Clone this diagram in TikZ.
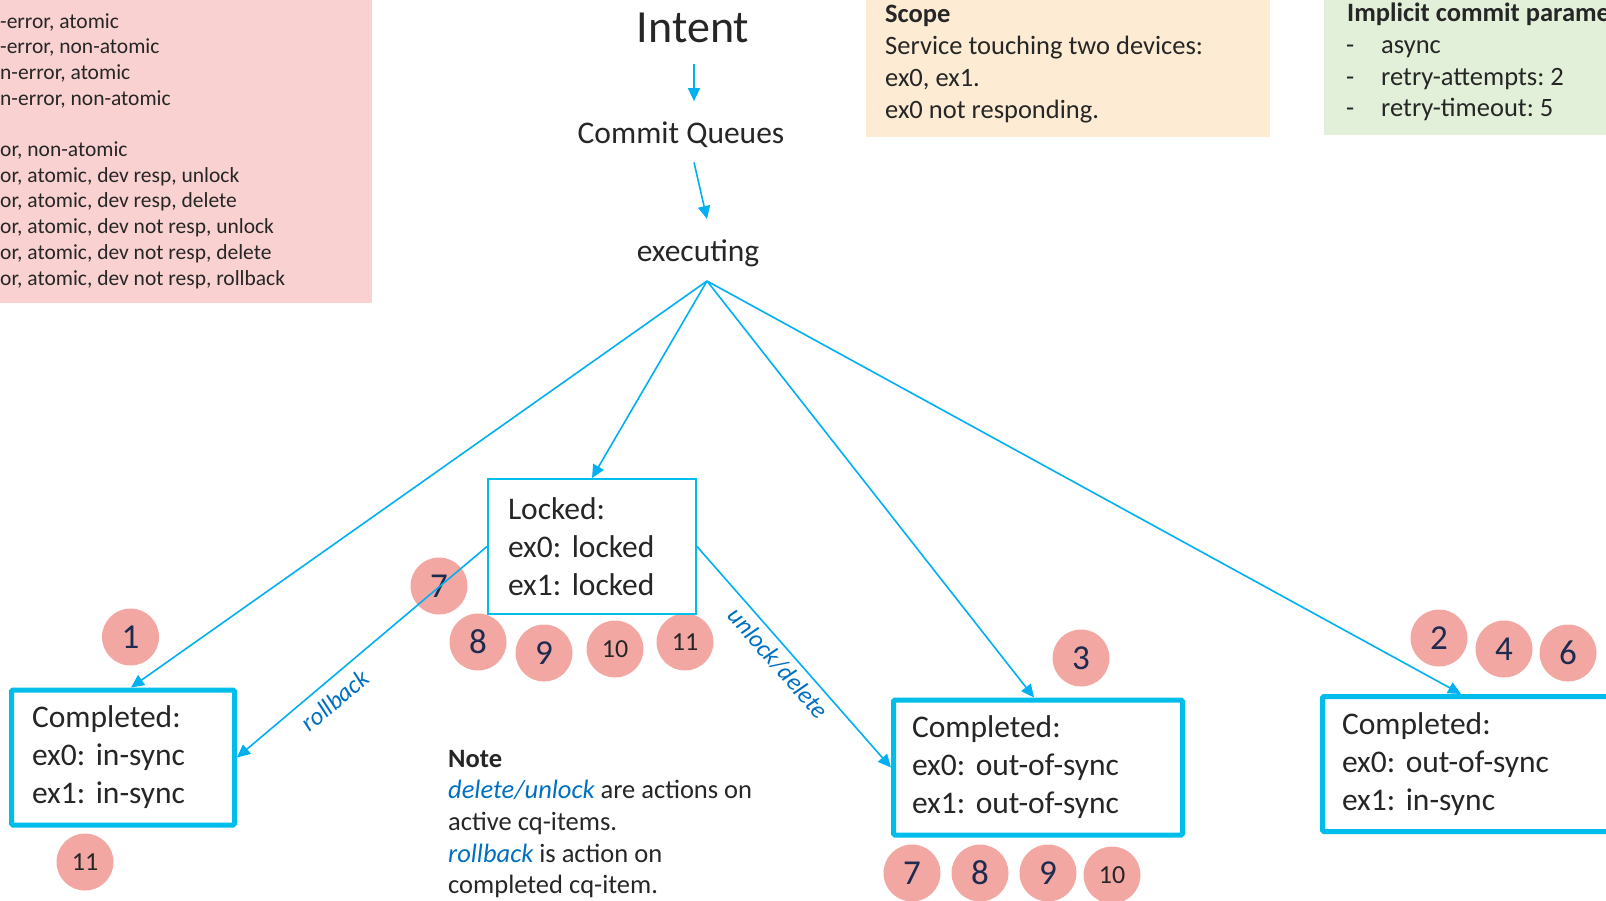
\documentclass[tikz,border=0pt]{standalone}
\usepackage{fontspec}
\setmainfont{Carlito}
\usetikzlibrary{arrows.meta,calc}
\definecolor{cyanline}{HTML}{00B0F0}
\definecolor{boxcyan}{HTML}{00BDEB}
\definecolor{pinkbg}{HTML}{F9D1D0}
\definecolor{peachbg}{HTML}{FDEBD3}
\definecolor{greenbg}{HTML}{E2F0D9}
\definecolor{dotfill}{HTML}{F3A7A2}
\definecolor{txt}{HTML}{262626}
\definecolor{navy}{HTML}{1C2B4F}
\definecolor{lblue}{HTML}{0070C0}
\newcommand\fsz[2]{\fontsize{#1}{#2}\selectfont}
\frenchspacing
\begin{document}
\frenchspacing
\begin{tikzpicture}[x=1pt,y=-1pt,
  arr/.style={draw=cyanline, line width=1.6pt, -{Triangle[length=13pt,width=12pt]}},
  lbl/.style={font=\fsz{25}{30}\itshape, text=lblue, inner sep=0pt, sloped},
  dotc/.style={circle, fill=dotfill, minimum size=57pt, inner sep=0pt, text=navy, font=\fsz{35}{40}},
  dotcs/.style={dotc, text=txt, font=\fsz{26}{30}},
  plain/.style={anchor=base west, inner sep=0pt, text=txt},
  lockbox/.style={draw=boxcyan, line width=2pt, fill=white, align=left, inner xsep=20pt, inner ysep=0pt,
    text width=168pt, minimum height=135pt, font=\fsz{31.5}{38}\frenchspacing, text=txt},
  compbox/.style={draw=boxcyan, line width=5pt, rounded corners=1.5pt, fill=white, align=left, inner ysep=0pt,
    minimum height=135pt, font=\fsz{31.5}{38}\frenchspacing, text=txt},
  ]
\useasboundingbox (0,0) rectangle (1606,900);
\clip (0,0) rectangle (1606,900);

% background panels
\node[fill=pinkbg, anchor=north west, inner sep=0pt, minimum width=372pt, minimum height=303pt] (pinkbox) at (0,0) {};
\node[fill=peachbg, anchor=north west, inner sep=0pt, minimum width=404pt, minimum height=137pt] (scopebox) at (866,0) {};
\node[fill=greenbg, anchor=north west, inner sep=0pt, minimum width=300pt, minimum height=135pt] (parambox) at (1324,0) {};

% pink panel text
\foreach \y/\t [count=\i] in {28/{-error, atomic}, 53.7/{-error, non-atomic}, 79.4/{n-error, atomic}, 105.1/{n-error, non-atomic},
  156.5/{or, non-atomic}, 182.2/{or, atomic, dev resp, unlock}, 207.9/{or, atomic, dev resp, delete},
  233.6/{or, atomic, dev not resp, unlock}, 259.3/{or, atomic, dev not resp, delete}, 285/{or, atomic, dev not resp, rollback}}
  \node[plain, font=\fsz{21.5}{25.7}] (p\i) at (0,\y) {\t};

% scope text
\node[plain, font=\fsz{26.5}{32}\bfseries] (scopet) at (885,22) {Scope};
\node[plain, font=\fsz{26.5}{32}] (scope1) at (885,54) {Service touching two devices:};
\node[plain, font=\fsz{26.5}{32}] (scope2) at (885,86) {ex0, ex1.};
\node[plain, font=\fsz{26.5}{32}] (scope3) at (885,118) {ex0 not responding.};

% parameter text
\node[plain, font=\fsz{26.5}{32}\bfseries] (part) at (1347,21) {Implicit commit parameters};
\foreach \y/\t [count=\i] in {53/{async}, 85/{retry-attempts: 2}, 116/{retry-timeout: 5}} {
  \node[plain, font=\fsz{26.5}{32}] (pard\i) at (1346,\y) {-};
  \node[plain, font=\fsz{26.5}{32}] (par\i) at (1381,\y) {\t};
}

% titles
\node[anchor=base, inner sep=0pt, text=txt, font=\fsz{46}{50}] (intent) at (693,42) {Intent};
\node[anchor=base, inner sep=0pt, text=txt, font=\fsz{31.5}{36}] (cq) at (681,143) {Commit Queues};
\node[anchor=base, inner sep=0pt, text=txt, font=\fsz{31.5}{36}] (exec) at (698,261) {executing};
\coordinate (fan) at (707,281);

% circles
\node[dotc] (n1) at (130.5,637) {1};
\node[dotcs] (n11a) at (85,862) {11};
\node[dotc] (n7a) at (439,586) {7};
\node[dotc] (n8a) at (478,642) {8};
\node[dotc] (n9a) at (544,653) {9};
\node[dotcs] (n10a) at (615,649) {10};
\node[dotcs] (n11b) at (685,642) {11};
\node[dotc] (n3) at (1081,658) {3};
\node[dotc] (n2) at (1439,638) {2};
\node[dotc] (n4) at (1504,649) {4};
\node[dotc] (n6) at (1568,653) {6};
\node[dotc] (n7b) at (912,873) {7};
\node[dotc] (n8b) at (980,873) {8};
\node[dotc] (n9b) at (1048,873) {9};
\node[dotcs] (n10b) at (1112,875) {10};

% state boxes
\node[lockbox] (locked) at (592,546.5) {Locked:\\ex0: locked\\ex1: locked};
\node[compbox, inner xsep=20.5pt, text width=182pt] (c1) at (123,757.5) {Completed:\\ex0: in-sync\\ex1: in-sync};
\node[compbox, inner xsep=18.5pt, text width=252pt] (c3) at (1038,767.5) {Completed:\\ex0: out-of-sync\\ex1: out-of-sync};
\node[compbox, inner xsep=19.5pt, text width=261pt] (c4) at (1472.5,764) {Completed:\\ex0: out-of-sync\\ex1: in-sync};

% connectors
\draw[arr] ($(intent.south)+(1,21)$) -- ($(cq.north)+(13,-20)$);
\draw[arr] ($(cq.south)+(13,15)$) -- ($(exec.north)+(9,-20)$);
\draw[arr] (fan) -- ([xshift=8pt]c1.north);
\draw[arr] (fan) -- (locked.north);
\draw[arr] (fan) -- ([xshift=-4pt]c3.north);
\draw[arr] (fan) -- ($(c4.north west)+(141,0)$);
\draw[arr] (locked.west) -- node[lbl, pos=0.658, below=10pt] (rb) {rollback} (c1.east);
\draw[arr] (locked.east) -- node[lbl, pos=0.481, below=6pt] (ud) {unlock/delete} (c3.west);

% note
\node[plain, font=\fsz{26.5}{31.5}\bfseries] (note0) at (448,767) {Note};
\node[plain, font=\fsz{26.5}{31.5}] (note1) at (448,798) {\textcolor{lblue}{\itshape delete/unlock} are actions on};
\node[plain, font=\fsz{26.5}{31.5}] (note2) at (448,830) {active cq-items.};
\node[plain, font=\fsz{26.5}{31.5}] (note3) at (448,862) {\textcolor{lblue}{\itshape rollback} is action on};
\node[plain, font=\fsz{26.5}{31.5}] (note4) at (448,893) {completed cq-item.};
\end{tikzpicture}
\end{document}
